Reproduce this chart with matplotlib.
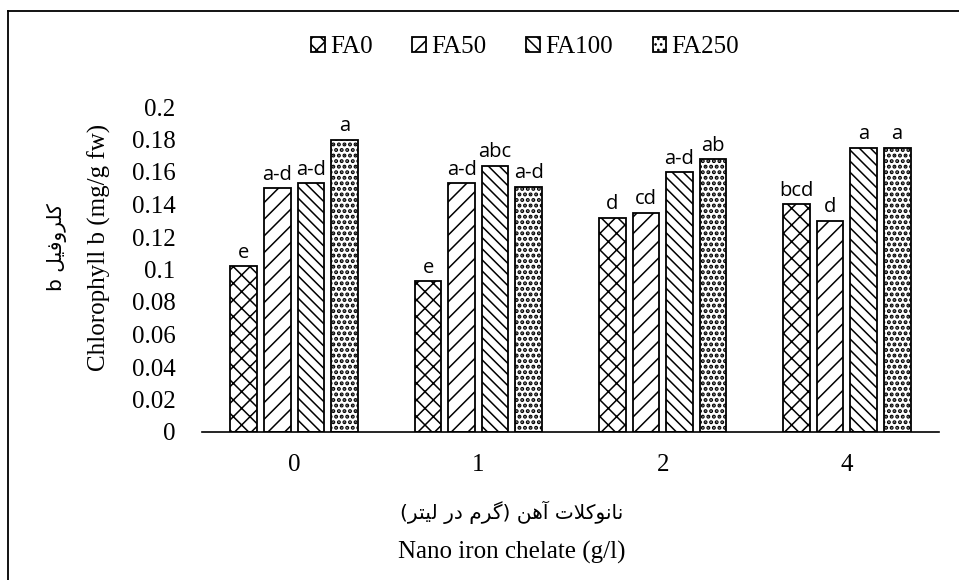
import numpy as np
import matplotlib.pyplot as plt
from matplotlib.lines import Line2D

# data
groups = ['0', '1', '2', '4']
series = ['FA0', 'FA50', 'FA100', 'FA250']
values = {
    'FA0': [0.102, 0.093, 0.132, 0.140],
    'FA50': [0.150, 0.153, 0.135, 0.130],
    'FA100': [0.153, 0.164, 0.160, 0.175],
    'FA250': [0.180, 0.151, 0.168, 0.175],
}
letters = {
    'FA0': ['e', 'e', 'd', 'bcd'],
    'FA50': ['a-d', 'a-d', 'cd', 'd'],
    'FA100': ['a-d', 'abc', 'a-d', 'a'],
    'FA250': ['a', 'a-d', 'ab', 'a'],
}
y_ticks = [0, 0.02, 0.04, 0.06, 0.08, 0.1, 0.12, 0.14, 0.16, 0.18, 0.2]
hatches = ['xx', '//', '\\\\\\', '...']
hatch_lw = [1.1, 1.1, 1.1, 2.0]

ylabel_fa = 'کلروفیل b'
ylabel_en = 'Chlorophyll b (mg/g fw)'
xlabel_fa = 'نانوکلات آهن (گرم در لیتر)'
xlabel_en = 'Nano iron chelate (g/l)'

# minimal arabic shaping (matplotlib has no bidi / joining)
FORMS = {
    'ا': ('\uFE8D', '\uFE8E', None, None),
    'آ': ('\uFE81', '\uFE82', None, None),
    'د': ('\uFEA9', '\uFEAA', None, None),
    'ر': ('\uFEAD', '\uFEAE', None, None),
    'و': ('\uFEED', '\uFEEE', None, None),
    'ت': ('\uFE95', '\uFE96', '\uFE97', '\uFE98'),
    'ف': ('\uFED1', '\uFED2', '\uFED3', '\uFED4'),
    'ل': ('\uFEDD', '\uFEDE', '\uFEDF', '\uFEE0'),
    'م': ('\uFEE1', '\uFEE2', '\uFEE3', '\uFEE4'),
    'ن': ('\uFEE5', '\uFEE6', '\uFEE7', '\uFEE8'),
    'ه': ('\uFEE9', '\uFEEA', '\uFEEB', '\uFEEC'),
    'ی': ('\uFBFC', '\uFBFD', '\uFBFE', '\uFBFF'),
    'ک': ('\uFB8E', '\uFB8F', '\uFB90', '\uFB91'),
    'گ': ('\uFB92', '\uFB93', '\uFB94', '\uFB95'),
}


def shape(text):
    out = []
    i = 0
    while i < len(text):
        c = text[i]
        if c not in FORMS:
            out.append(c)
            i += 1
            continue
        prev_joins = i > 0 and text[i - 1] in FORMS and FORMS[text[i - 1]][2] is not None
        if c == 'ل' and i + 1 < len(text) and text[i + 1] == 'ا':
            out.append('\uFEFC' if prev_joins else '\uFEFB')
            i += 2
            continue
        f = FORMS[c]
        next_joins = f[2] is not None and i + 1 < len(text) and text[i + 1] in FORMS
        if prev_joins and next_joins:
            out.append(f[3])
        elif prev_joins:
            out.append(f[1])
        elif next_joins:
            out.append(f[2])
        else:
            out.append(f[0])
        i += 1
    vis = ''.join(out)[::-1]
    return vis.translate(str.maketrans('()', ')('))


plt.rcParams['font.family'] = 'Liberation Serif'
plt.rcParams['hatch.linewidth'] = 1.1

W, H = 959, 580
fig = plt.figure(figsize=(W / 100, H / 100), dpi=100)
ax = fig.add_axes([202 / W, 1 - 432 / H, (939 - 202) / W, (432 - 107) / H])

x = np.arange(len(groups))
pitch = 0.182
width = 0.145
handles = []
for i, s in enumerate(series):
    pos = x + (i - 1.5) * pitch
    with plt.rc_context({'hatch.linewidth': hatch_lw[i]}):
        b = ax.bar(pos, values[s], width, color='white', edgecolor='black',
                   linewidth=1.3, hatch=hatches[i], label=s)
    handles.append(b)
    for px, v, lab in zip(pos, values[s], letters[s]):
        ax.text(px, v + 0.002, lab, ha='center', va='bottom',
                fontsize=14.5, family='Open Sans')

ax.set_xlim(-0.5, len(groups) - 0.5)
ax.set_ylim(0, 0.2)
ax.set_xticks(x)
ax.set_xticklabels(groups, fontsize=18)
ax.set_yticks(y_ticks)
ax.set_yticklabels([f'{v:g}' for v in y_ticks], fontsize=18)
ax.tick_params(axis='both', length=0)
ax.tick_params(axis='y', pad=19)
ax.tick_params(axis='x', pad=16)
for sp in ['top', 'right', 'left']:
    ax.spines[sp].set_visible(False)
ax.spines['bottom'].set_linewidth(1.2)

fig.legend(handles, series, loc='center', bbox_to_anchor=(525 / W, 1 - 47 / H),
           ncol=4, frameon=False, fontsize=18, handlelength=0.55, handleheight=0.55,
           handletextpad=0.2, columnspacing=1.6)

fig.text(99 / W, 1 - 247 / H, ylabel_en, rotation=90, ha='center', va='center', fontsize=18)
fig.text(57 / W, 1 - 247 / H, shape(ylabel_fa), rotation=90, ha='center', va='center',
         fontsize=14.5, family=['DejaVu Sans'])
fig.text(512 / W, 1 - 512 / H, shape(xlabel_fa), ha='center', va='center',
         fontsize=14.5, family=['DejaVu Sans'])
fig.text(512 / W, 1 - 552 / H, xlabel_en, ha='center', va='center', fontsize=18)

# chart frame (only left and top edges inside the crop)
fig.add_artist(Line2D([8 / W, 8 / W], [0, 1 - 11 / H], transform=fig.transFigure,
                      color='black', lw=1.3))
fig.add_artist(Line2D([8 / W, 1], [1 - 11 / H, 1 - 11 / H], transform=fig.transFigure,
                      color='black', lw=1.3))

fig.savefig('out.png', dpi=100)
